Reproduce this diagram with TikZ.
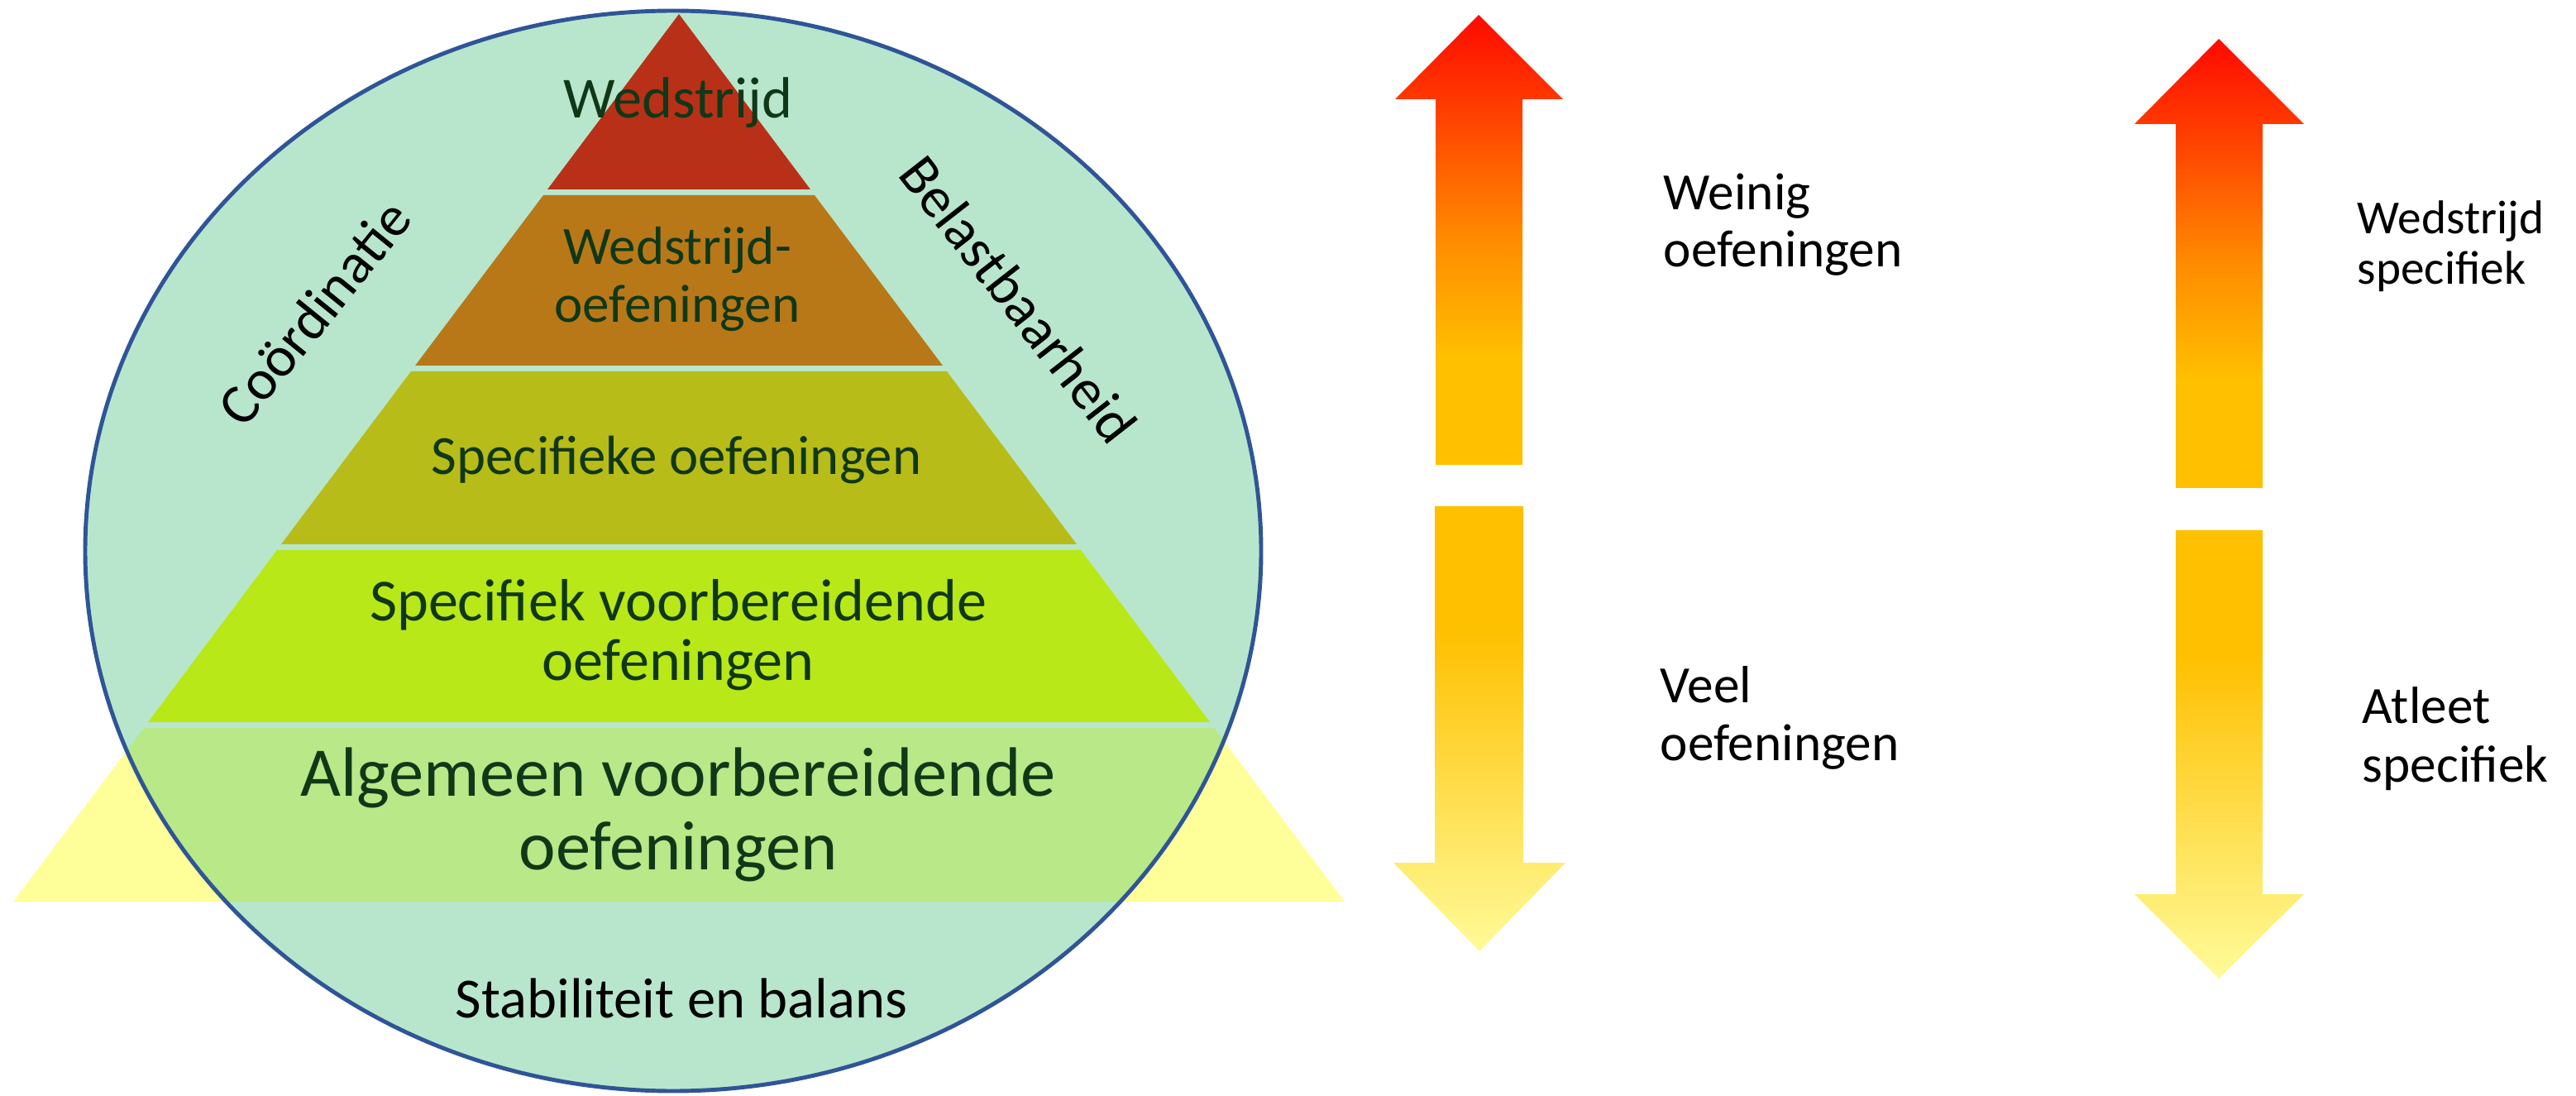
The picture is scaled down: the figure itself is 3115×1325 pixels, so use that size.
\documentclass[tikz,border=0pt]{standalone}
\usepackage{fontspec}
\setmainfont{Carlito}
\usepackage{tikz}

\definecolor{mint}{RGB}{184,230,204}
\definecolor{rimblue}{RGB}{47,85,151}
\definecolor{topred}{RGB}{184,48,24}
\definecolor{bandorange}{RGB}{184,120,24}
\definecolor{bandolive}{RGB}{184,188,24}
\definecolor{bandlime}{RGB}{184,232,24}
\definecolor{basegreen}{RGB}{184,232,136}
\definecolor{baseyellow}{RGB}{255,255,153}
\definecolor{txtgreen}{RGB}{16,56,24}
\definecolor{arrred}{RGB}{255,10,0}
\definecolor{arrred2}{RGB}{255,64,0}
\definecolor{arrorange}{RGB}{255,140,0}
\definecolor{arrgold}{RGB}{255,192,0}
\definecolor{arrpale}{RGB}{255,251,153}

\pgfdeclareverticalshading{upshade}{100bp}{color(0bp)=(arrgold); color(37bp)=(arrgold);
  color(50bp)=(arrorange); color(64bp)=(arrred2); color(75bp)=(arrred); color(100bp)=(arrred)}
\pgfdeclareverticalshading{downshade}{100bp}{color(0bp)=(arrpale); color(25bp)=(arrpale);
  color(61bp)=(arrgold); color(100bp)=(arrgold)}

\begin{document}
\begin{tikzpicture}[x=0.01cm, y=-0.01cm,
  pyr/.style={text=txtgreen, align=center, inner sep=0pt, anchor=base},
  side/.style={text=black, inner sep=0pt, font=\fontsize{19.6pt}{22pt}\selectfont},
  note/.style={text=black, align=left, inner sep=0pt, anchor=base west}]
\useasboundingbox (0,0) rectangle (3115,1325);

% base band, yellow where it sticks out of the oval
\fill[baseyellow] (174,880) -- (1468,880) -- (1626,1090) -- (16,1090) -- cycle;
\fill[mint] (814,666) ellipse [x radius=711, y radius=653];
\begin{scope}
  \clip (814,666) ellipse [x radius=711, y radius=653];
  \fill[basegreen] (174,880) -- (1468,880) -- (1626,1090) -- (16,1090) -- cycle;
\end{scope}

% pyramid bands
\fill[topred] (821,17) -- (980,229) -- (662,229) -- cycle;
\fill[bandorange] (657,236) -- (985,236) -- (1140,442) -- (502,442) -- cycle;
\fill[bandolive] (497,449) -- (1145,449) -- (1302,658) -- (340,658) -- cycle;
\fill[bandlime] (335,665) -- (1307,665) -- (1463,873) -- (179,873) -- cycle;
\draw[rimblue, line width=1.4pt] (814,666) ellipse [x radius=711, y radius=653];

% anchors of two-line texts sit on their last line
\node[pyr, font=\fontsize{20pt}{24pt}\selectfont] (wedstrijd) at (820,143) {Wedstrijd};
\node[pyr, font=\fontsize{18.5pt}{20pt}\selectfont] (wedoef) at (819,390) {Wedstrijd-\\oefeningen};
\node[pyr, font=\fontsize{19pt}{22pt}\selectfont] (specoef) at (818,574) {Specifieke oefeningen};
\node[pyr, font=\fontsize{20.5pt}{20.5pt}\selectfont] (specvoor) at (820,823) {Specifiek voorbereidende\\oefeningen};
\node[pyr, font=\fontsize{24pt}{25.3pt}\selectfont] (algvoor) at (820,1051) {Algemeen voorbereidende\\oefeningen};
\node[pyr, text=black, font=\fontsize{19.5pt}{22pt}\selectfont] (stabiel) at (824,1230) {Stabiliteit en balans};

\node[side, rotate=51] (coord) at (380,378) {Coördinatie};
\node[side, rotate=-52] (belast) at (1232,362) {Belastbaarheid};

% arrows
\shade[shading=upshade] (1788,18) -- (1890,120) -- (1841,120) -- (1841,562)
  -- (1736,562) -- (1736,120) -- (1687,120) -- cycle;
\shade[shading=downshade] (1735,612) -- (1842,612) -- (1842,1043) -- (1893,1043)
  -- (1789,1150) -- (1685,1043) -- (1735,1043) -- cycle;
\shade[shading=upshade] (2683,47) -- (2786,150) -- (2736,150) -- (2736,590)
  -- (2631,590) -- (2631,150) -- (2581,150) -- cycle;
\shade[shading=downshade] (2631,641) -- (2736,641) -- (2736,1081) -- (2786,1081)
  -- (2683,1183) -- (2581,1081) -- (2631,1081) -- cycle;

\node[note, font=\fontsize{18pt}{19.9pt}\selectfont] (weinig) at (2011,323) {Weinig\\oefeningen};
\node[note, font=\fontsize{18pt}{19.9pt}\selectfont] (veel) at (2007,919) {Veel\\oefeningen};
\node[note, font=\fontsize{16.3pt}{17.4pt}\selectfont] (wedspec) at (2850,344) {Wedstrijd\\specifiek};
\node[note, font=\fontsize{18pt}{20pt}\selectfont] (atleet) at (2856,945) {Atleet\\specifiek};
\end{tikzpicture}
\end{document}
